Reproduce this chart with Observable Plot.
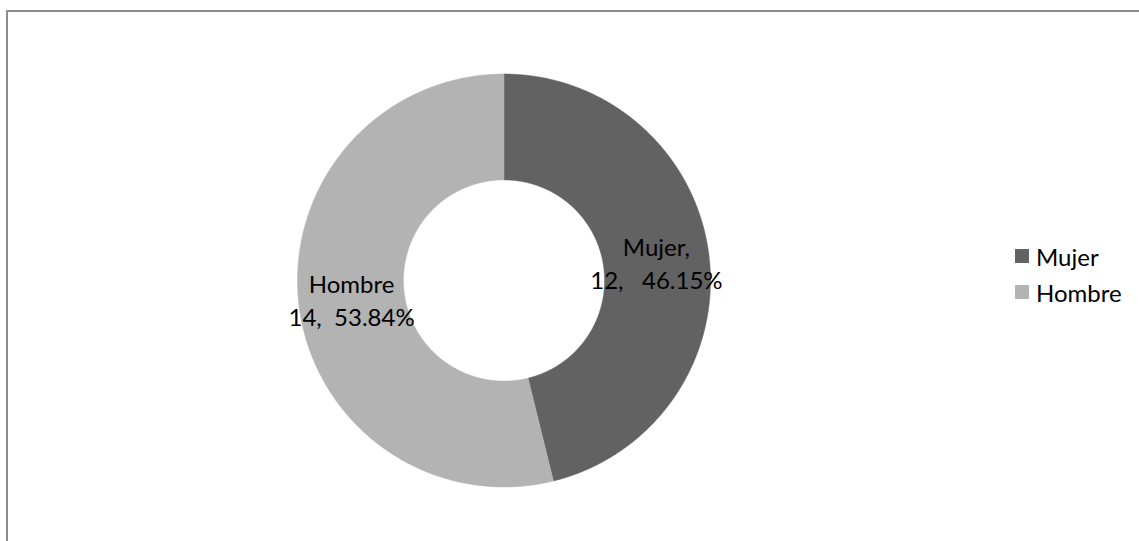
<!DOCTYPE html>
<html>
<head>
<meta charset="utf-8">
<script src="https://cdn.jsdelivr.net/npm/d3@7"></script>
<script src="https://cdn.jsdelivr.net/npm/@observablehq/plot@0.6"></script>
<style>
  html, body { margin: 0; padding: 0; background: #fff; }
  #wrap { position: relative; width: 1139px; height: 541px; overflow: hidden; font-family: Lato, "Open Sans", sans-serif; }
  #frame { position: absolute; left: 6px; top: 10px; width: 1200px; height: 600px; border-top: 2px solid #8c8c8c; border-left: 2px solid #8c8c8c; box-sizing: border-box; }
  #chart { position: absolute; left: 0; top: 0; }
  #legend { position: absolute; left: 1015px; top: 244px; }
  .item { display: flex; align-items: center; height: 24px; margin-bottom: 12px; font-size: 24px; color: #000; }
  .sw { width: 14px; height: 14px; margin-right: 7px; }
</style>
</head>
<body>
<div id="wrap">
  <div id="frame"></div>
  <div id="chart"></div>
  <div id="legend"></div>
</div>
<script>
// Data
const categories = ["Mujer", "Hombre"];
const counts = [12, 14];
const percentLabels = ["46.15%", "53.84%"];
const labelTexts = ["Mujer,\n12,   46.15%", "Hombre\n14,  53.84%"];
const colors = ["#626262", "#b3b3b3"];

const innerRatio = 0.487;
const rows = categories.map((c, i) => ({cat: c, value: counts[i], label: labelTexts[i]}));
const arcs = d3.pie().sort(null).value(d => d.value)(rows);

// ring polygons in unit coordinates (angle clockwise from top)
const pts = [];
arcs.forEach(a => {
  const n = Math.max(2, Math.ceil((a.endAngle - a.startAngle) / 0.005));
  const outer = d3.range(n + 1).map(k => a.startAngle + (a.endAngle - a.startAngle) * k / n);
  outer.forEach(t => pts.push({cat: a.data.cat, x: Math.sin(t), y: Math.cos(t)}));
  outer.slice().reverse().forEach(t => pts.push({cat: a.data.cat, x: innerRatio * Math.sin(t), y: innerRatio * Math.cos(t)}));
  pts.push({cat: a.data.cat, x: Math.sin(a.startAngle), y: Math.cos(a.startAngle)});
});

const rm = (1 + innerRatio) / 2;
const labels = arcs.map(a => {
  const t = (a.startAngle + a.endAngle) / 2;
  return {cat: a.data.cat, label: a.data.label, x: rm * Math.sin(t), y: rm * Math.cos(t)};
});

const chart = Plot.plot({
  width: 1139,
  height: 541,
  margin: 0,
  style: {background: "transparent", fontFamily: "Lato, 'Open Sans', sans-serif"},
  x: {domain: [-1, 1], range: [297, 710], axis: null},
  y: {domain: [-1, 1], range: [486.5, 73.5], axis: null},
  color: {domain: categories, range: colors},
  marks: [
    Plot.line(pts, {x: "x", y: "y", z: "cat", fill: "cat", stroke: "cat", strokeWidth: 0.5, curve: "linear"}),
    Plot.text(labels, {x: "x", y: "y", text: "label", fontSize: 24, lineHeight: 1.38, fill: "#000", textAnchor: "middle"})
  ]
});
document.getElementById("chart").appendChild(chart);

const legend = document.getElementById("legend");
categories.forEach((c, i) => {
  const row = document.createElement("div");
  row.className = "item";
  const sw = document.createElement("div");
  sw.className = "sw";
  sw.style.background = colors[i];
  const tx = document.createElement("span");
  tx.textContent = c;
  row.appendChild(sw);
  row.appendChild(tx);
  legend.appendChild(row);
});
</script>
</body>
</html>
